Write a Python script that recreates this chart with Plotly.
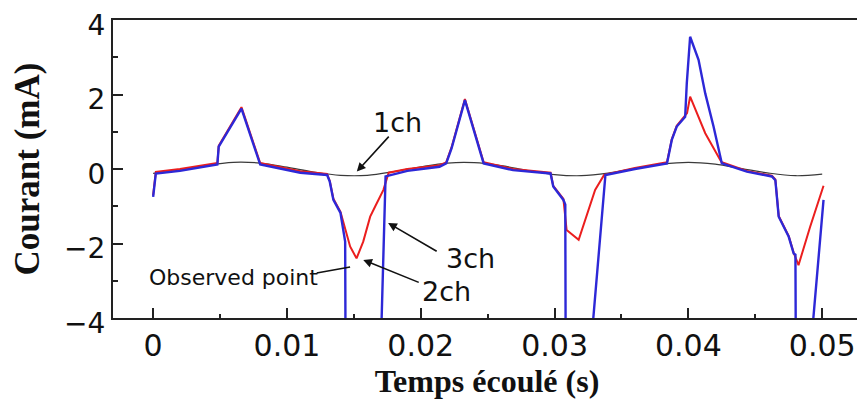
import plotly.graph_objects as go

# ---- data ----
t_1ch = [0.0, 0.002, 0.004, 0.006, 0.008, 0.010, 0.012, 0.014, 0.016, 0.018, 0.020,
         0.022, 0.024, 0.026, 0.028, 0.030, 0.032, 0.034, 0.036, 0.038, 0.040,
         0.042, 0.044, 0.046, 0.048, 0.050]
v_1ch = [-0.12, -0.03, 0.10, 0.18, 0.16, 0.05, -0.08, -0.17, -0.17, -0.07, 0.06,
         0.16, 0.17, 0.09, -0.04, -0.15, -0.18, -0.11, 0.02, 0.13, 0.18,
         0.13, 0.01, -0.11, -0.18, -0.14]

t_2ch = [0.0, 0.0002, 0.002, 0.004, 0.0048, 0.0049, 0.0055, 0.0066, 0.008, 0.0095,
         0.011, 0.013, 0.0132, 0.01347, 0.014, 0.01472, 0.0152, 0.0157, 0.01622, 0.0166,
         0.01721, 0.0176, 0.019, 0.0214, 0.0219, 0.0223, 0.0233, 0.0247, 0.0269, 0.0297,
         0.0299, 0.03066, 0.0309, 0.0318, 0.03253, 0.03303, 0.0337, 0.036, 0.0384, 0.03876,
         0.03913, 0.03976, 0.0399, 0.04013, 0.04063, 0.04126, 0.04238, 0.0425, 0.04437, 0.04624,
         0.0465, 0.04675, 0.0475, 0.04787, 0.04823, 0.0491, 0.0501]
v_2ch = [-0.7, -0.08, 0.0, 0.12, 0.16, 0.62, 0.98, 1.66, 0.16, 0.04,
         -0.06, -0.13, -0.32, -0.8, -1.15, -2.08, -2.4, -1.95, -1.28, -1.0,
         -0.56, -0.1, 0.0, 0.1, 0.18, 0.58, 1.88, 0.18, 0.0, -0.1,
         -0.45, -0.8, -1.64, -1.9, -1.1, -0.56, -0.16, 0.03, 0.18, 0.8,
         1.16, 1.42, 1.5, 1.94, 1.5, 0.96, 0.24, 0.18, -0.05, -0.18,
         -0.28, -1.26, -1.8, -2.25, -2.58, -1.55, -0.45]

t_3ch = [0.0, 0.0002, 0.002, 0.004, 0.0048, 0.0049, 0.0055, 0.0066, 0.008, 0.0095,
         0.011, 0.013, 0.0132, 0.01347, 0.014, 0.01435, 0.01438, 0.0170, 0.01737, 0.019,
         0.0214, 0.0219, 0.0223, 0.0233, 0.0247, 0.0269, 0.0297, 0.0299, 0.03066, 0.0308,
         0.03083, 0.03266, 0.0338, 0.036, 0.0384, 0.03876, 0.03913, 0.03976, 0.03988, 0.04013,
         0.04076, 0.04126, 0.04188, 0.0425, 0.04437, 0.04624, 0.0465, 0.04675, 0.0475, 0.04787,
         0.048, 0.04803, 0.0491, 0.0501]
v_3ch = [-0.75, -0.12, -0.05, 0.08, 0.12, 0.6, 0.95, 1.62, 0.12, 0.0,
         -0.1, -0.16, -0.34, -0.83, -1.18, -1.95, -5.0, -5.0, -0.2, -0.05,
         0.06, 0.15, 0.55, 1.85, 0.15, -0.03, -0.12, -0.47, -0.83, -0.95,
         -5.0, -5.0, -0.16, 0.0, 0.15, 0.78, 1.14, 1.4, 2.3, 3.55,
         2.93, 2.03, 1.14, 0.15, -0.07, -0.2, -0.3, -1.28, -1.82, -2.27,
         -2.3, -5.0, -5.0, -0.83]

x_ticks = [0, 0.01, 0.02, 0.03, 0.04, 0.05]
x_ticktext = ["0", "0.01", "0.02", "0.03", "0.04", "0.05"]
y_ticks = [-4, -2, 0, 2, 4]
y_ticktext = ["\u22124", "\u22122", "0", "2", "4"]

AX = "#222222"

fig = go.Figure()
fig.add_trace(go.Scatter(x=t_1ch, y=v_1ch, mode="lines", name="1ch",
                         line=dict(color="#3a3a3a", width=1.2, shape="spline")))
fig.add_trace(go.Scatter(x=t_2ch, y=v_2ch, mode="lines", name="2ch",
                         line=dict(color="rgb(235,30,30)", width=2)))
fig.add_trace(go.Scatter(x=t_3ch, y=v_3ch, mode="lines", name="3ch",
                         line=dict(color="rgb(45,40,215)", width=2.4)))

lab_font = dict(family="DejaVu Sans", size=27, color="#111111")
ann = []
# text labels
ann.append(dict(x=0.01824, y=1.26, text="1ch", showarrow=False, font=lab_font))
ann.append(dict(x=0.02374, y=-2.39, text="3ch", showarrow=False, font=lab_font))
ann.append(dict(x=0.02195, y=-3.29, text="2ch", showarrow=False, font=lab_font))
ann.append(dict(x=0.00602, y=-2.9, text="Observed point", showarrow=False,
                font=dict(family="DejaVu Sans", size=22, color="#111111")))
# arrows (head at x,y ; tail at ax,ay)
for hx, hy, tx, ty, head in [
    (0.01522, -0.07, 0.01771, 0.91, 2),
    (0.01756, -1.45, 0.02130, -2.23, 2),
    (0.01570, -2.44, 0.01996, -3.06, 2),
    (0.01472, -2.63, 0.01211, -2.80, 0),
]:
    ann.append(dict(x=hx, y=hy, ax=tx, ay=ty, xref="x", yref="y", axref="x", ayref="y",
                    text="", showarrow=True, arrowhead=head, arrowsize=1.1,
                    arrowwidth=1.6, arrowcolor="#111111"))

# the page body adds an 8px offset, so the figure is sized to fit the window
fig.update_layout(
    width=857, height=401,
    margin=dict(l=105, r=4, t=12, b=91, autoexpand=False),
    plot_bgcolor="white", paper_bgcolor="white",
    showlegend=False,
    annotations=ann,
)
fig.update_xaxes(
    automargin=False, ticklabeloverflow="allow",
    range=[-0.003, 0.0529], tickvals=x_ticks, ticktext=x_ticktext,
    ticks="inside", ticklen=10, tickwidth=1.5, tickcolor=AX,
    minor=dict(dtick=0.005, tick0=0, ticks="inside", ticklen=4, tickwidth=1.5, tickcolor=AX),
    showline=True, linewidth=2, linecolor=AX, mirror=True,
    showgrid=False, zeroline=False,
    tickfont=dict(family="DejaVu Sans", size=30, color="#111111"),
    title=dict(text="Temps écoulé (s)", standoff=4,
               font=dict(family="Liberation Serif", size=32, color="#111111", weight="bold")),
)
fig.update_yaxes(
    automargin=False, ticklabeloverflow="allow",
    ticklabelshift=5,
    range=[-4, 4], tickvals=y_ticks, ticktext=y_ticktext,
    ticks="inside", ticklen=10, tickwidth=1.5, tickcolor=AX,
    minor=dict(dtick=1, tick0=0, ticks="inside", ticklen=5, tickwidth=1.5, tickcolor=AX),
    showline=True, linewidth=2, linecolor=AX, mirror=True,
    showgrid=False, zeroline=False,
    tickfont=dict(family="DejaVu Sans", size=28, color="#111111"),
    title=dict(text="Courant (mA)", standoff=28,
               font=dict(family="Liberation Serif", size=35, color="#111111", weight="bold")),
)

fig.write_html("out.html")
